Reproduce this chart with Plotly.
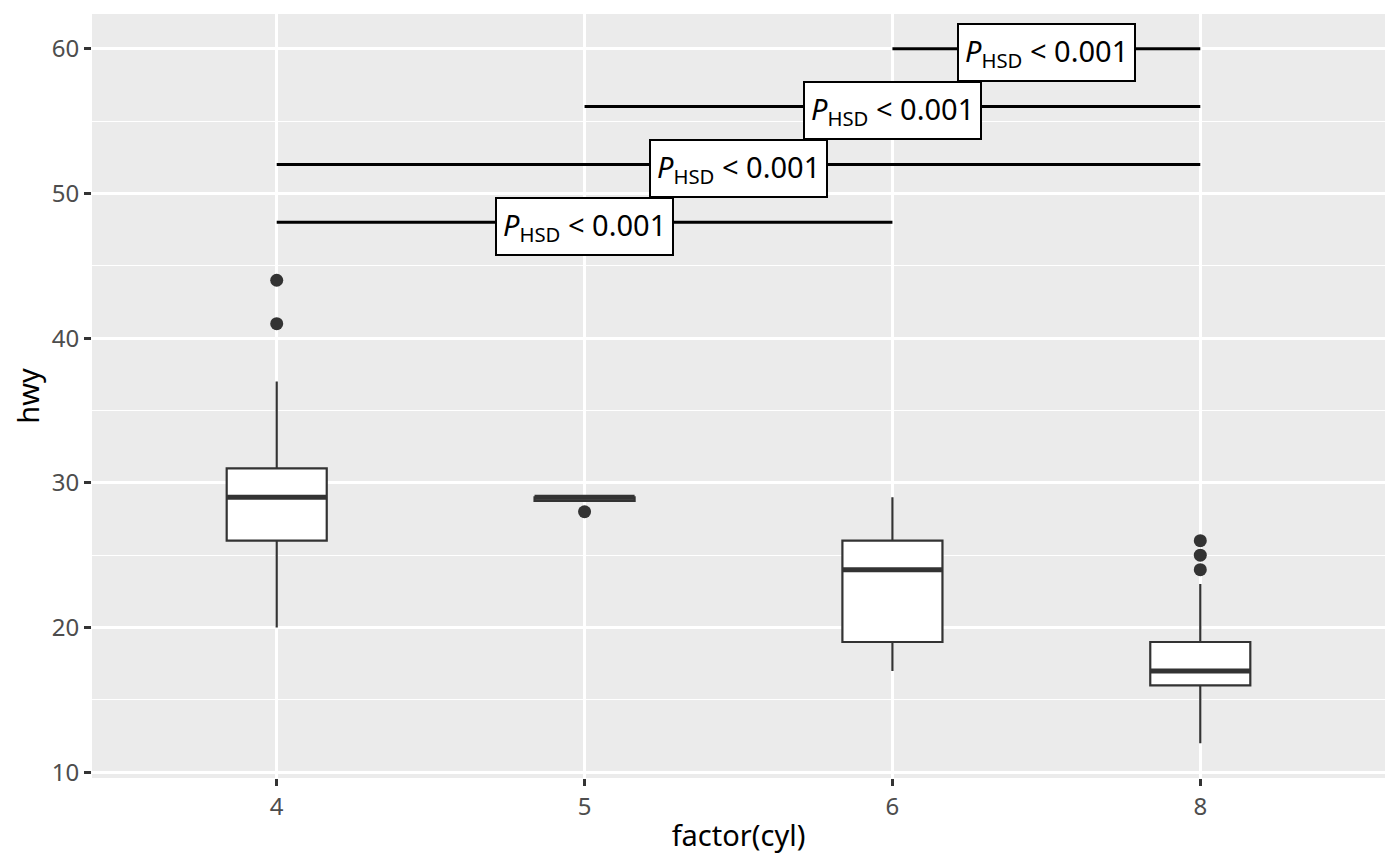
import plotly.graph_objs as go

# Boxplot summary of hwy by number of cylinders
cyl = ['4', '5', '6', '8']
lower_whisker = [20, 28.75, 17, 12]
q1 = [26, 28.75, 19, 16]
median = [29, 29, 24, 17]
q3 = [31, 29, 26, 19]
upper_whisker = [37, 29, 29, 23]
outlier_cyl = ['4', '4', '5', '8', '8', '8']
outlier_hwy = [41, 44, 28, 24, 25, 26]

# Tukey HSD comparisons drawn as brackets
pair_from = ['4', '4', '5', '6']
pair_to = ['6', '8', '8', '8']
pair_y = [48, 52, 56, 60]
pair_label = ['<i>P</i><sub>HSD</sub> &lt; 0.001'] * 4

pos = {c: i + 1 for i, c in enumerate(cyl)}
xs = [pos[c] for c in cyl]
box_w = 0.325
dark = '#333333'

data = [
    go.Box(x=xs, q1=q1, median=median, q3=q3,
           lowerfence=lower_whisker, upperfence=upper_whisker,
           width=box_w, whiskerwidth=0, fillcolor='white',
           line=dict(color=dark, width=2.2), boxpoints=False,
           hoverinfo='skip', showlegend=False),
    go.Scatter(x=[pos[c] for c in outlier_cyl], y=outlier_hwy, mode='markers',
               marker=dict(color=dark, size=13), showlegend=False)
]

# thicker median bar like ggplot
for x, m in zip(xs, median):
    data.append(go.Scatter(x=[x - box_w / 2, x + box_w / 2], y=[m, m], mode='lines',
                           line=dict(color=dark, width=5), showlegend=False))

annotations = []
for a, b, y, lab in zip(pair_from, pair_to, pair_y, pair_label):
    data.append(go.Scatter(x=[pos[a], pos[b]], y=[y, y], mode='lines',
                           line=dict(color='black', width=3), showlegend=False))
    annotations.append(dict(x=(pos[a] + pos[b]) / 2, y=y, yshift=-4, text=lab,
                            showarrow=False, bgcolor='white', bordercolor='black',
                            borderwidth=2, borderpad=6,
                            font=dict(size=29, color='black')))

# the page puts the plot 8px in from the top-left corner, so margins allow for that
layout = go.Layout(
    width=1400, height=866,
    margin=dict(l=84, r=23, t=6, b=96),
    paper_bgcolor='white', plot_bgcolor='#EBEBEB',
    font=dict(family='Noto Sans', color='black'),
    annotations=annotations,
    xaxis=dict(title=dict(text='factor(cyl)', font=dict(size=29), standoff=4),
               range=[0.4, 4.6], tickvals=xs, ticktext=cyl,
               showgrid=True, gridcolor='white', gridwidth=2.5, zeroline=False,
               ticks='outside', ticklen=7, tickwidth=2.5, tickcolor=dark,
               tickfont=dict(size=24, color='#4D4D4D')),
    yaxis=dict(title=dict(text='hwy', font=dict(size=29), standoff=8),
               range=[9.6, 62.4], tick0=10, dtick=10,
               showgrid=True, gridcolor='white', gridwidth=2.5, zeroline=False,
               minor=dict(dtick=5, showgrid=True, gridcolor='white', gridwidth=1.3),
               ticks='outside', ticklen=7, tickwidth=2.5, tickcolor=dark,
               tickfont=dict(size=24, color='#4D4D4D'))
)

fig = go.Figure(data=data, layout=layout)
fig.write_html('out.html')
